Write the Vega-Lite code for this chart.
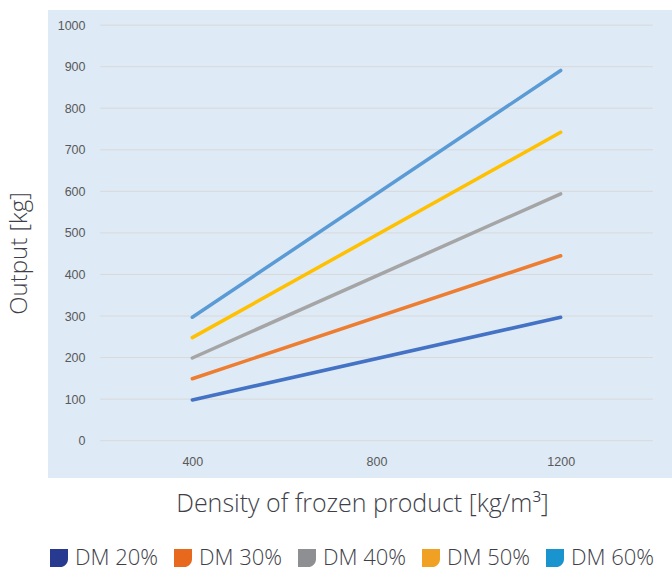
{
  "$schema": "https://vega.github.io/schema/vega-lite/v6.json",
  "width": 624,
  "height": 468,
  "autosize": {"type": "none"},
  "padding": {"left": 48, "top": 10, "right": 0, "bottom": 89},
  "background": "#ffffff",
  "config": {
    "view": {"fill": "#deeaf6", "stroke": null},
    "font": "Liberation Sans"
  },
  "datasets": {
    "series": [
      {"density": 400, "output": 98, "series": "DM 20%"},
      {"density": 1200, "output": 297, "series": "DM 20%"},
      {"density": 400, "output": 149, "series": "DM 30%"},
      {"density": 1200, "output": 445, "series": "DM 30%"},
      {"density": 400, "output": 199, "series": "DM 40%"},
      {"density": 1200, "output": 594, "series": "DM 40%"},
      {"density": 400, "output": 248, "series": "DM 50%"},
      {"density": 1200, "output": 742, "series": "DM 50%"},
      {"density": 400, "output": 297, "series": "DM 60%"},
      {"density": 1200, "output": 891, "series": "DM 60%"}
    ],
    "grid": [
      {"y": 0, "x0": 200, "x1": 1400},
      {"y": 100, "x0": 200, "x1": 1400},
      {"y": 200, "x0": 200, "x1": 1400},
      {"y": 300, "x0": 200, "x1": 1400},
      {"y": 400, "x0": 200, "x1": 1400},
      {"y": 500, "x0": 200, "x1": 1400},
      {"y": 600, "x0": 200, "x1": 1400},
      {"y": 700, "x0": 200, "x1": 1400},
      {"y": 800, "x0": 200, "x1": 1400},
      {"y": 900, "x0": 200, "x1": 1400},
      {"y": 1000, "x0": 200, "x1": 1400}
    ]
  },
  "layer": [
    {
      "data": {"name": "grid"},
      "mark": {"type": "rule", "color": "#d9d9d9", "strokeWidth": 1},
      "encoding": {
        "x": {
          "field": "x0", "type": "quantitative",
          "scale": {"domain": [86.6, 1441.7], "nice": false, "zero": false},
          "axis": {
            "values": [400, 800, 1200],
            "format": "d",
            "orient": "bottom",
            "offset": -27,
            "domain": false, "ticks": false, "grid": false,
            "labelPadding": 10,
            "labelBaseline": "middle",
            "labelFontSize": 12.5,
            "labelColor": "#595959",
            "title": "Density of frozen product [kg/m³]",
            "titleFont": "Open Sans",
            "titleFontWeight": 300,
            "titleFontSize": 25,
            "titleColor": "#3f3f4a",
            "titleX": 314,
            "titleY": 52,
            "titleBaseline": "middle",
            "titleAlign": "center"
          }
        },
        "x2": {"field": "x1"},
        "y": {
          "field": "y", "type": "quantitative",
          "scale": {"domain": [-89.8, 1036.4], "nice": false, "zero": false},
          "axis": {
            "values": [0, 100, 200, 300, 400, 500, 600, 700, 800, 900, 1000],
            "format": "d",
            "orient": "left",
            "offset": -37,
            "domain": false, "ticks": false, "grid": false,
            "labelPadding": 0,
            "labelFontSize": 12.5,
            "labelColor": "#595959",
            "title": "Output [kg]",
            "titleFont": "Open Sans",
            "titleFontWeight": 300,
            "titleFontSize": 24,
            "titleColor": "#3f3f4a",
            "titleAngle": -90,
            "titleX": -66,
            "titleY": 243,
            "titleBaseline": "middle",
            "titleAlign": "center"
          }
        }
      }
    },
    {
      "data": {"name": "series"},
      "mark": {"type": "line", "strokeWidth": 3.5, "strokeCap": "round"},
      "encoding": {
        "x": {"field": "density", "type": "quantitative"},
        "y": {"field": "output", "type": "quantitative"},
        "stroke": {
          "field": "series", "type": "nominal",
          "scale": {"range": ["#4472c4", "#ed7d31", "#a5a5a5", "#ffc000", "#5b9bd5"]},
          "legend": null
        }
      }
    },
    {
      "data": {"name": "series"},
      "mark": {"type": "point", "filled": true, "size": 0},
      "encoding": {
        "x": {"field": "density", "type": "quantitative"},
        "y": {"field": "output", "type": "quantitative"},
        "color": {
          "field": "series", "type": "nominal",
          "scale": {"domain": ["DM 20%", "DM 30%", "DM 40%", "DM 50%", "DM 60%"], "range": ["#283a8f", "#e8681e", "#8e8f93", "#f0a023", "#1994cf"]},
          "legend": {
            "orient": "none",
            "legendX": 0,
            "legendY": 537,
            "direction": "horizontal",
            "columns": 5,
            "title": null,
            "symbolType": "M-1,-1L1,-1L1,0.1C1,0.6 0.6,1 0.1,1L-1,1Z",
            "symbolSize": 324,
            "symbolOpacity": 1,
            "symbolStrokeWidth": 0,
            "labelFont": "Open Sans",
            "labelFontWeight": 300,
            "labelFontSize": 22,
            "labelColor": "#3f3f4a",
            "labelOffset": 5,
            "columnPadding": 13,
            "labelLimit": 0
          }
        }
      }
    }
  ]
}
